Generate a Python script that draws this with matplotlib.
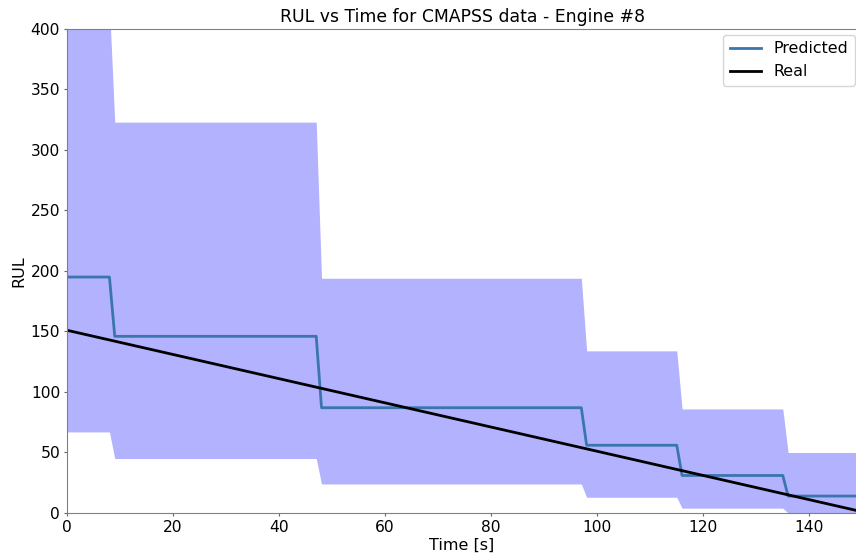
import numpy as np
import matplotlib
matplotlib.use("Agg")
import matplotlib.pyplot as plt

# Engine #8 predictions: each cycle block keeps a constant estimate
time = np.arange(0, 150)
real_rul = 151 - time

# (last cycle of block, predicted RUL, upper bound, lower bound)
block_end = [8, 47, 97, 115, 135, 149]
pred_level = [195, 146, 87, 56, 31, 14]
upper_level = [420, 323, 194, 134, 86, 50]
lower_level = [67, 45, 24, 13, 4, 0]


def expand(levels):
    out = []
    start = 0
    for end, v in zip(block_end, levels):
        out += [v] * (end - start + 1)
        start = end + 1
    return np.array(out)


predicted = expand(pred_level)
upper = expand(upper_level)
lower = expand(lower_level)

fig = plt.figure(figsize=(8.56, 5.57), dpi=100)
ax = fig.add_axes([0.0783, 0.079, 0.9229, 0.869])

ax.fill_between(time, lower, upper, color="blue", alpha=0.3, linewidth=0)
ax.plot(time, predicted, color="#3a75ae", linewidth=2, label="Predicted")
ax.plot(time, real_rul, color="black", linewidth=2, label="Real")

ax.set_xlim(0, 149)
ax.set_ylim(0, 400)
ax.set_title("RUL vs Time for CMAPSS data - Engine #8", fontsize=12.4, pad=5)
ax.set_xlabel("Time [s]", fontsize=11.5, labelpad=2)
ax.set_ylabel("RUL", fontsize=11.5, labelpad=3)
ax.tick_params(labelsize=11.2, color="0.4", length=2.5, pad=2.5)
for s in ax.spines.values():
    s.set_color("0.5")
ax.legend(fontsize=11.4, loc="upper right", borderaxespad=0,
          bbox_to_anchor=(855 / 856, 1 - 35 / 557), bbox_transform=fig.transFigure)

fig.savefig("out.png", dpi=100)
